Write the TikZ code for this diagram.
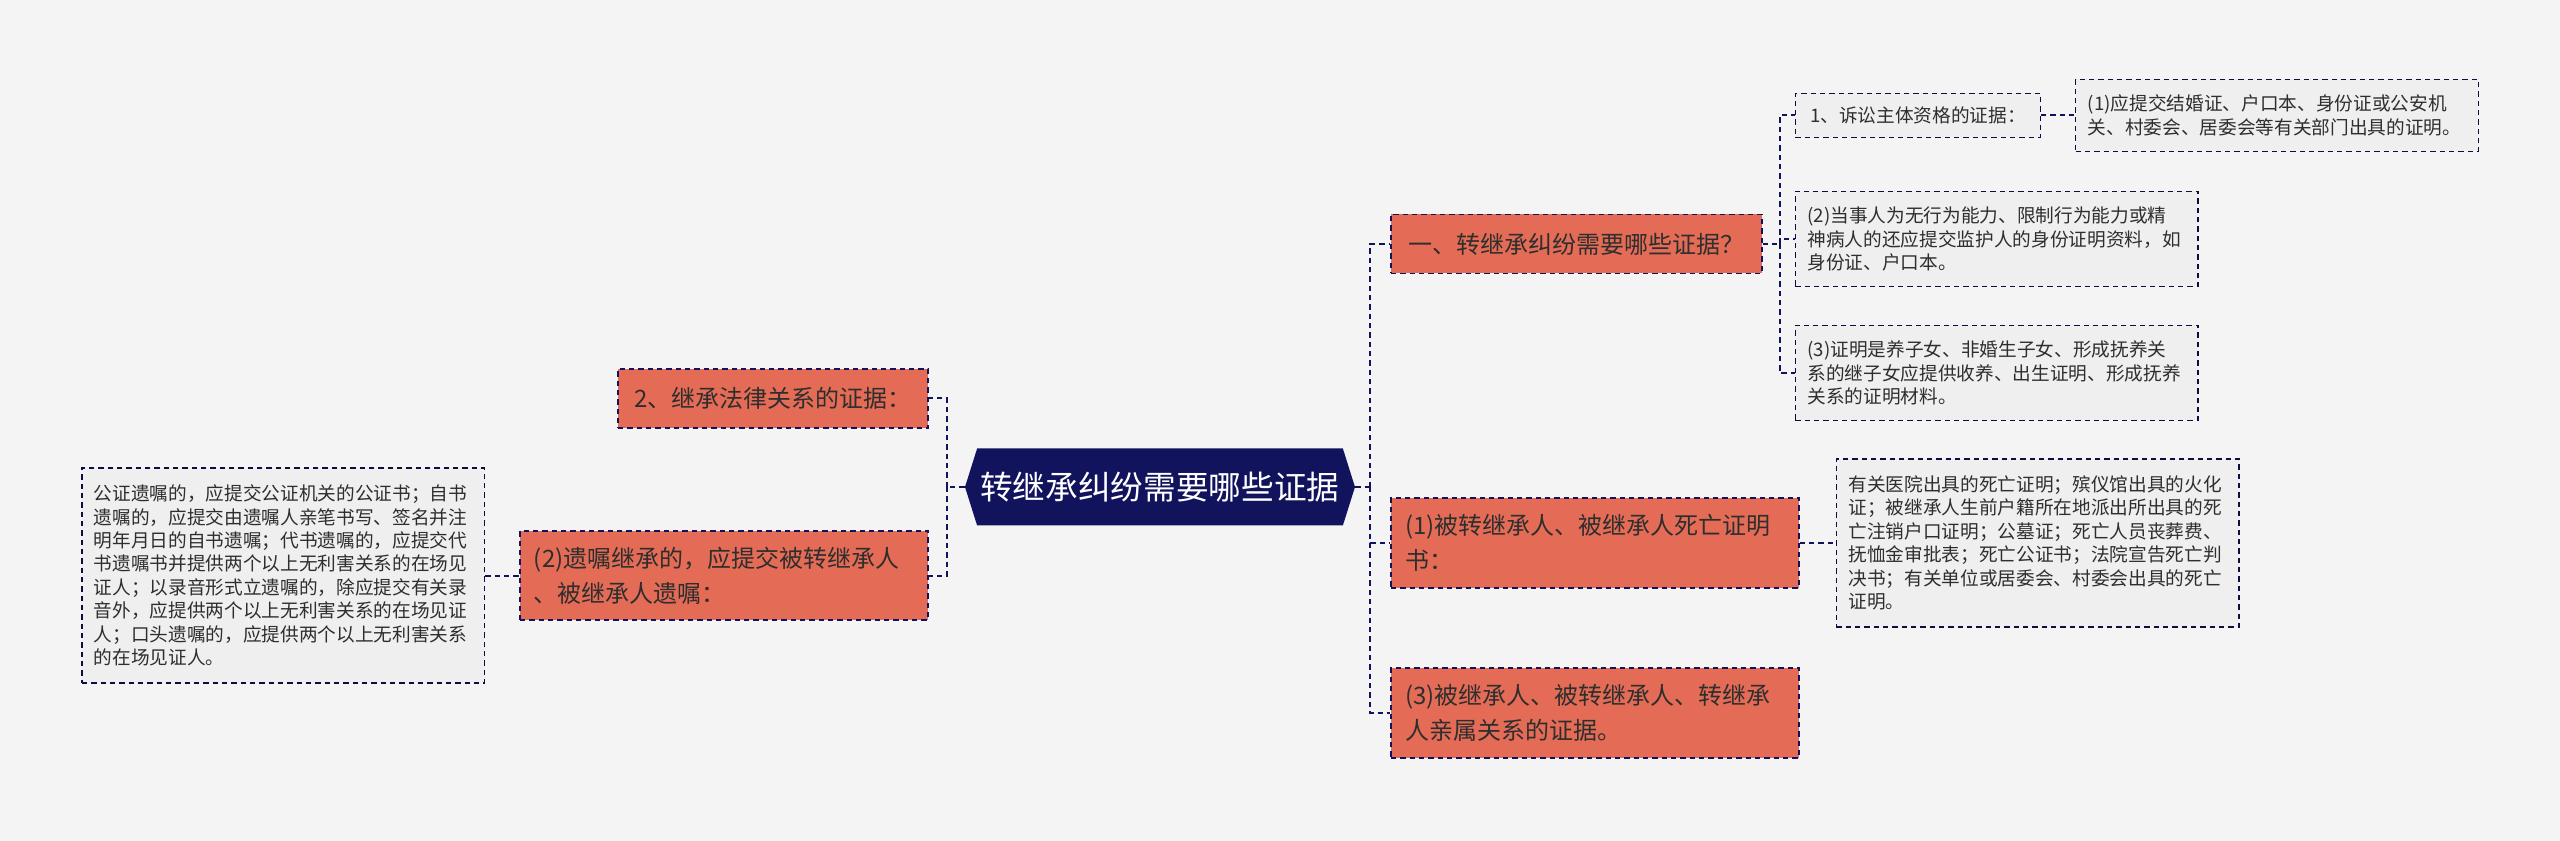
\documentclass[tikz,border=0pt]{standalone}
\usepackage{fontspec}
\usepackage{xcolor}
\usepackage{tikz}
\usetikzlibrary{arrows.meta, positioning, shapes.symbols, calc}
\newfontfamily\cjk{Noto Sans CJK SC}
\definecolor{navy}{HTML}{11145C}
\definecolor{coral}{HTML}{E46C56}
\definecolor{pagebg}{HTML}{F4F4F4}
\definecolor{leafbg}{HTML}{EFEFEF}
\definecolor{ink}{HTML}{2E2E2E}

\begin{document}
\begin{tikzpicture}[every node/.style={font=\cjk}]
    \tikzset{rootnode/.style={signal, signal to=east and west, signal pointer angle=145, fill=navy, text=white, minimum width=292.5pt, minimum height=57.75pt, inner sep=0pt, font=\cjk\fontsize{24.5}{30}\selectfont},
        branch/.style={rectangle, fill=coral, draw=navy, line width=1.1pt, dash pattern=on 4pt off 3pt, text=ink, align=left, inner xsep=10.5pt, inner ysep=6pt, font=\cjk\fontsize{18}{26}\selectfont},
        leaf/.style={rectangle, fill=leafbg, draw=navy!70!black, line width=1pt, dash pattern=on 4pt off 3pt, text=ink, align=left, inner xsep=9pt, inner ysep=5pt, font=\cjk\fontsize{14}{17.6}\selectfont},
        link/.style={draw=navy, line width=1.5pt, dash pattern=on 4pt off 3pt}}
    \path[use as bounding box, fill=pagebg] (-870pt,365.25pt) rectangle (1050pt,-265.5pt);
    % nodes
    \node[rootnode] (root) at (0,0) {转继承纠纷需要哪些证据};
    \node[branch, minimum width=278.25pt, minimum height=44.25pt, right=26.25pt of root, yshift=182.25pt] (q1) {一、转继承纠纷需要哪些证据？};
    \node[branch, text width=285pt, minimum height=67.5pt, right=26.25pt of root, yshift=-42pt] (death) {(1)被转继承人、被继承人死亡证明\\书：};
    \node[branch, text width=285pt, minimum height=67.5pt, right=26.25pt of root, yshift=-169.5pt] (kin) {(3)被继承人、被转继承人、转继承\\人亲属关系的证据。};
    \node[branch, minimum width=232.5pt, minimum height=44.25pt, left=27pt of root, yshift=66.4pt] (law) {2、继承法律关系的证据：};
    \node[branch, text width=285pt, minimum height=66.75pt, left=27pt of root, yshift=-66.4pt] (will) {(2)遗嘱继承的，应提交被转继承人\\、被继承人遗嘱：};
    % leaves
    \node[leaf, minimum width=183.75pt, minimum height=33pt, right=24pt of q1, yshift=96.4pt] (party) {1、诉讼主体资格的证据：};
    \node[leaf, text width=284pt, minimum height=54pt, right=25.5pt of party] (party1) {(1)应提交结婚证、户口本、身份证或公安机\\关、村委会、居委会等有关部门出具的证明。};
    \node[leaf, text width=284pt, minimum height=71.25pt, right=24pt of q1, yshift=3.75pt] (party2) {(2)当事人为无行为能力、限制行为能力或精\\神病人的还应提交监护人的身份证明资料，如\\身份证、户口本。};
    \node[leaf, text width=284pt, minimum height=71.25pt, right=24pt of q1, yshift=-96.75pt] (party3) {(3)证明是养子女、非婚生子女、形成抚养关\\系的继子女应提供收养、出生证明、形成抚养\\关系的证明材料。};
    \node[leaf, text width=284pt, minimum height=126pt, right=27pt of death] (deathdoc) {有关医院出具的死亡证明；殡仪馆出具的火化\\证；被继承人生前户籍所在地派出所出具的死\\亡注销户口证明；公墓证；死亡人员丧葬费、\\抚恤金审批表；死亡公证书；法院宣告死亡判\\决书；有关单位或居委会、村委会出具的死亡\\证明。};
    \node[leaf, text width=284pt, minimum height=161.25pt, left=25.5pt of will] (willdoc) {公证遗嘱的，应提交公证机关的公证书；自书\\遗嘱的，应提交由遗嘱人亲笔书写、签名并注\\明年月日的自书遗嘱；代书遗嘱的，应提交代\\书遗嘱书并提供两个以上无利害关系的在场见\\证人；以录音形式立遗嘱的，除应提交有关录\\音外，应提供两个以上无利害关系的在场见证\\人；口头遗嘱的，应提供两个以上无利害关系\\的在场见证人。};
    % junctions
    \coordinate (rj) at ([xshift=11.25pt]root.east);
    \coordinate (lj) at ([xshift=-13.5pt]root.west);
    \coordinate (qj) at ([xshift=12.75pt]q1.east);
    % root to branches
    \draw[link] (root.east) -- (rj);
    \draw[link] (rj) |- (q1.west);
    \draw[link] (rj) |- (death.west);
    \draw[link] (rj) |- (kin.west);
    \draw[link] (root.west) -- (lj);
    \draw[link] (lj) |- (law.east);
    \draw[link] (lj) |- (will.east);
    % branches to leaves
    \draw[link] (q1.east) -- (qj);
    \draw[link] (qj) |- (party.west);
    \draw[link] (qj) |- (party2.west);
    \draw[link] (qj) |- (party3.west);
    \draw[link] (party.east) -- (party1.west);
    \draw[link] (death.east) -- (deathdoc.west);
    \draw[link] (willdoc.east) -- (will.west);
\end{tikzpicture}
\end{document}
